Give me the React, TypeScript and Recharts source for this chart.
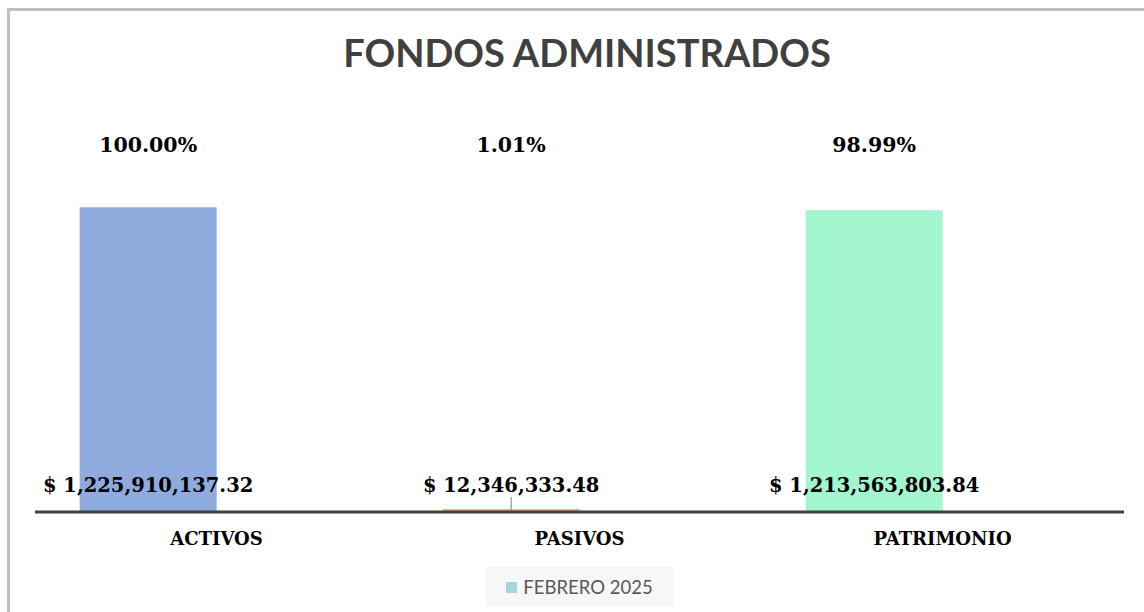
import React from 'react';
import { BarChart, Bar, XAxis, YAxis, Cell, LabelList, Legend } from 'recharts';

const categorias = ['ACTIVOS', 'PASIVOS', 'PATRIMONIO'];
const montos = [1225910137.32, 12346333.48, 1213563803.84];
const porcentajes = [100.0, 1.01, 98.99];
const serie = 'FEBRERO 2025';

const colores = ['#8FAADC', '#F4B183', '#A3F5CF'];
const colorSerie = '#9ED8DD';
const serif = '"DejaVu Serif", serif';

const data = categorias.map((c, i) => ({
    categoria: c,
    monto: montos[i],
    pct: porcentajes[i],
    vacio: null as number | null,
}));

const fmtMonto = (v: number) =>
    '$ ' + v.toLocaleString('en-US', { minimumFractionDigits: 2, maximumFractionDigits: 2 });

const MontoLabel = (props: any) => {
    const { x, y, width, height, value } = props;
    const cx = x + width / 2;
    const base = y + height;
    return (
        <g>
            {height < 10 && (
                <line x1={cx} x2={cx} y1={base - 15} y2={base - 2} stroke="#7f7f7f" strokeWidth={1} />
            )}
            <text x={cx} y={base - 20} textAnchor="middle" fontFamily={serif} fontWeight="bold" fontSize={19.5} fill="#000">
                {fmtMonto(value)}
            </text>
        </g>
    );
};

const PctLabel = (props: any) => {
    const { x, width, value } = props;
    return (
        <text x={x + width / 2} y={152} textAnchor="middle" fontFamily={serif} fontWeight="bold" fontSize={20.5} fill="#000">
            {value.toFixed(2) + '%'}
        </text>
    );
};

const CatTick = (props: any) => {
    const { x, y, payload } = props;
    return (
        <text x={x} y={y + 25} textAnchor="middle" fontFamily={serif} fontWeight="bold" fontSize={18} fill="#000">
            {payload.value}
        </text>
    );
};

const LeyendaCaja = () => (
    <div style={{
        width: 187, height: 40, background: '#F7F7F7', display: 'flex',
        alignItems: 'center', justifyContent: 'center', fontFamily: 'Lato, "Open Sans", sans-serif',
        fontSize: 18.5, color: '#595959',
    }}>
        <span style={{ width: 11, height: 11, background: colorSerie, marginRight: 6, display: 'inline-block' }} />
        {serie}
    </div>
);

export default function App() {
    return (
        <div style={{ position: 'absolute', left: 0, top: 0, width: 1144, height: 612, background: '#fff', overflow: 'hidden' }}>
            <div style={{
                position: 'absolute', left: 7, top: 8, width: 1150, height: 610,
                borderTop: '3px solid #BFBFBF', borderLeft: '3px solid #BFBFBF', boxSizing: 'border-box',
            }} />
            <div style={{
                position: 'absolute', left: 0, top: 29, width: 1174, textAlign: 'center',
                fontFamily: 'Lato, sans-serif', fontWeight: 'bold', fontSize: 38, color: '#404040',
            }}>
                FONDOS ADMINISTRADOS
            </div>
            <div style={{ position: 'absolute', left: 0, top: 0 }}>
                <BarChart
                    width={1144}
                    height={612}
                    data={data}
                    margin={{ top: 164, right: 20, left: 35, bottom: 20 }}
                    barGap={0}
                    barCategoryGap="12.3%"
                >
                    <XAxis
                        dataKey="categoria"
                        axisLine={{ stroke: '#404040', strokeWidth: 3 }}
                        tickLine={false}
                        height={40}
                        tick={<CatTick />}
                        interval={0}
                    />
                    <YAxis hide domain={[0, 1400000000]} />
                    <Legend
                        verticalAlign="bottom"
                        content={<LeyendaCaja />}
                        wrapperStyle={{ left: 486, bottom: 5, width: 187, height: 40 }}
                    />
                    <Bar dataKey="monto" name={serie} fill={colorSerie} isAnimationActive={false}>
                        {data.map((d, i) => (
                            <Cell key={d.categoria} fill={colores[i]} />
                        ))}
                        <LabelList dataKey="monto" content={<MontoLabel />} />
                        <LabelList dataKey="pct" content={<PctLabel />} />
                    </Bar>
                    <Bar dataKey="vacio" fill="#ffffff" isAnimationActive={false} legendType="none" />
                </BarChart>
            </div>
        </div>
    );
}
